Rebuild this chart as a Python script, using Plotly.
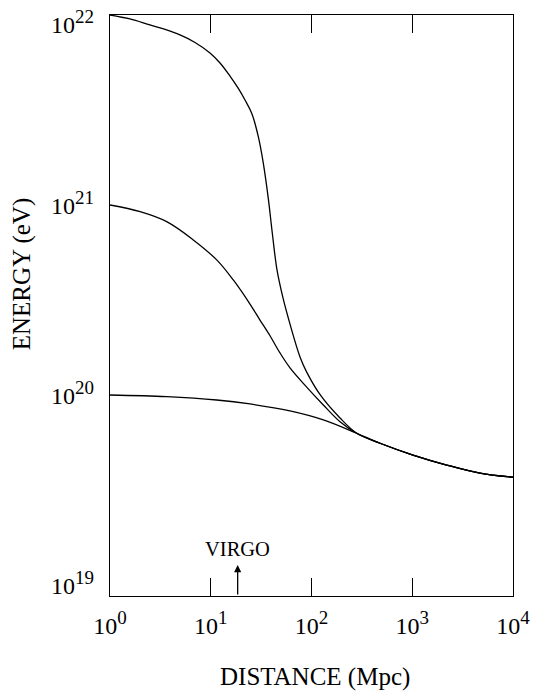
import numpy as np
import plotly.graph_objects as go

# ---- data ----
# shared tail beyond the convergence point (Mpc, eV)
tail_distance = [478.6, 1017, 2198, 4705, 10000]
tail_energy = [5.57e19, 4.83e19, 4.28e19, 3.88e19, 3.69e19]

top_distance = [1, 1.58, 2.49, 3.52, 4.95, 6.98, 9.83, 12.36, 15.53, 18.64,
                21.88, 25.5, 29.65, 33.23, 37.27, 41.03, 45.46, 51.55, 61.18, 76.9,
                89.6, 124.3, 191.8, 280.9]
top_energy = [1.0e22, 9.53e21, 8.86e21, 8.39e21, 7.85e21, 7.17e21, 6.31e21, 5.59e21, 4.77e21, 4.13e21,
              3.57e21, 3.04e21, 2.29e21, 1.66e21, 1.08e21, 6.95e20, 4.55e20, 3.32e20, 2.36e20, 1.585e20,
              1.32e20, 9.88e19, 7.57e19, 6.29e19]

mid_distance = [1, 1.99, 3.65, 6.71, 11.46, 16.74, 24.52, 30.8, 38.73, 48.68,
                61.18, 89.6, 131, 191.8, 280.9]
mid_energy = [1.0e21, 9.22e20, 8.17e20, 6.55e20, 5.14e20, 4.03e20, 3.01e20, 2.48e20, 2.05e20, 1.664e20,
              1.39e20, 1.10e20, 8.86e19, 7.23e19, 6.29e19]

low_distance = [1, 3.65, 11.46, 24.52, 61.18, 131, 280.9]
low_energy = [1.0e20, 9.8e19, 9.41e19, 8.97e19, 8.24e19, 7.39e19, 6.29e19]

virgo_distance = 18.5

x_tickvals = [1, 10, 100, 1000, 10000]
x_exponents = ["0", "1", "2", "3", "4"]
y_tickvals = [1e19, 1e20, 1e21, 1e22]
y_exponents = ["19", "20", "21", "22"]

FONT = "Liberation Serif, Times New Roman, serif"
SUP = "10<sup><span style='font-size:19px'>{}</span></sup>"

fig = go.Figure()
for d, e in [(top_distance, top_energy), (mid_distance, mid_energy), (low_distance, low_energy)]:
    fig.add_trace(go.Scatter(
        x=list(d) + tail_distance, y=list(e) + tail_energy,
        mode="lines", line=dict(color="black", width=1.3, shape="spline", smoothing=1.0),
        showlegend=False, hoverinfo="skip"))

# VIRGO arrow
fig.add_annotation(
    x=np.log10(virgo_distance), y=19.105, xref="x", yref="y",
    ax=np.log10(virgo_distance), ay=18.942, axref="x", ayref="y",
    text="", showarrow=True, arrowhead=2, arrowsize=1.1, arrowwidth=1.3, arrowcolor="black")
fig.add_annotation(
    x=np.log10(virgo_distance), y=19.105, xref="x", yref="y",
    text="VIRGO", showarrow=False, yanchor="bottom", yshift=3,
    font=dict(family=FONT, size=20.5, color="black"))

# y tick labels (top one sits a little lower, as in the original)
for v, s in zip(y_tickvals, y_exponents):
    fig.add_annotation(
        x=0, y=np.log10(v), xref="paper", yref="y", text=SUP.format(s),
        showarrow=False, xanchor="right", yanchor="middle",
        xshift=-14, yshift=(-7 if v == max(y_tickvals) else 2),
        font=dict(family=FONT, size=24, color="black"))

# axis titles
fig.add_annotation(
    x=0.509, y=-0.139, xref="paper", yref="paper", text="DISTANCE (Mpc)",
    showarrow=False, xanchor="center", yanchor="middle",
    font=dict(family=FONT, size=25, color="black"))
fig.add_annotation(
    x=-0.218, y=0.554, xref="paper", yref="paper", text="ENERGY (eV)", textangle=-90,
    showarrow=False, xanchor="center", yanchor="middle",
    font=dict(family=FONT, size=25, color="black"))

fig.update_xaxes(
    type="log", range=[0, 4], tickvals=x_tickvals,
    ticktext=[SUP.format(s) for s in x_exponents],
    ticks="inside", ticklen=18, tickwidth=1.3, tickcolor="black",
    showline=True, linecolor="black", linewidth=1.3, mirror="ticks",
    showgrid=False, zeroline=False, ticklabelstandoff=8, automargin=False,
    tickfont=dict(family=FONT, size=24, color="black"))
fig.update_yaxes(
    type="log", range=[18.942, 22.0], tickvals=y_tickvals,
    showticklabels=False,
    ticks="", showline=True, linecolor="black", linewidth=1.3, mirror=True,
    showgrid=False, zeroline=False, automargin=False)

fig.update_layout(
    width=535, height=692, margin=dict(l=110, r=22, t=15, b=96),
    paper_bgcolor="white", plot_bgcolor="white", showlegend=False)

fig.write_html("out.html")
